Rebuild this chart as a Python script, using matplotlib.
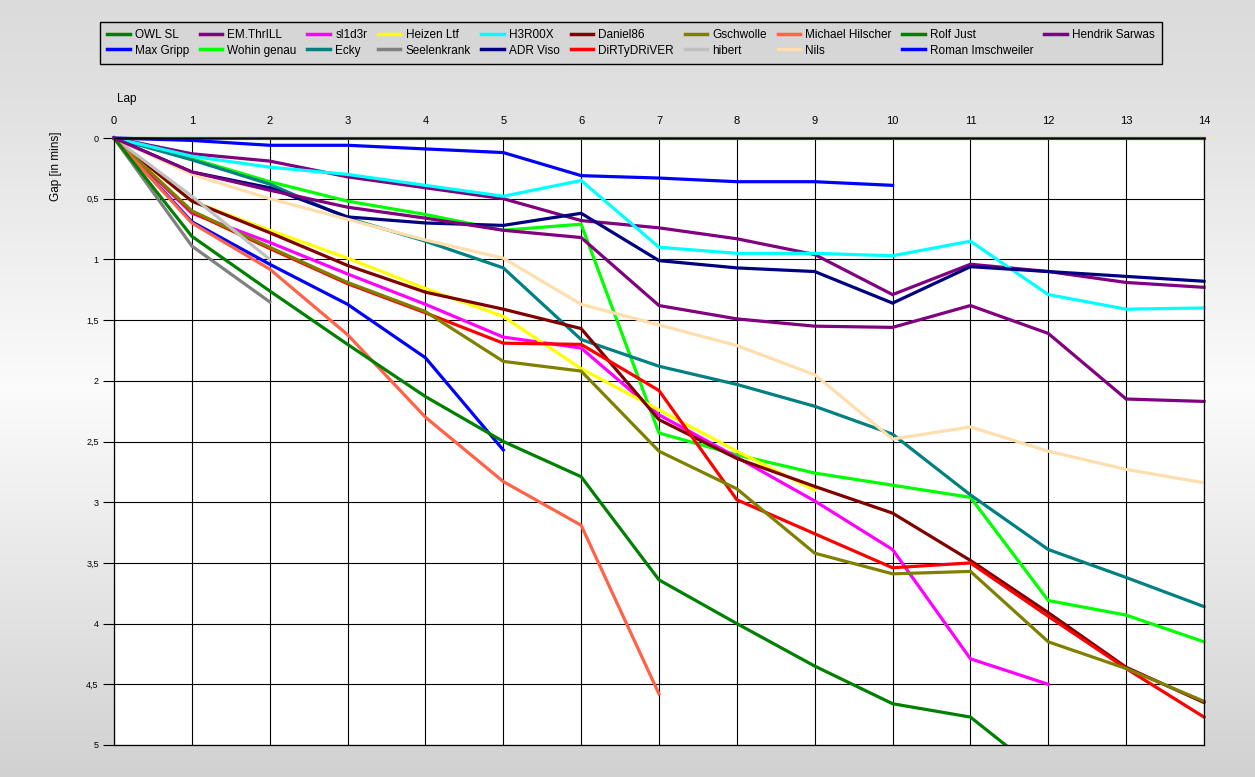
import numpy as np
import matplotlib
matplotlib.use("Agg")
import matplotlib.pyplot as plt

plt.rcParams.update({"font.family": ["Liberation Sans", "DejaVu Sans"], "font.size": 8})

# --- Daten: Rückstand (Minuten) pro Runde ---
drivers = ["OWL SL", "Max Gripp", "EM.ThrILL", "Wohin genau", "sl1d3r", "Ecky",
           "Heizen Ltf", "Seelenkrank", "H3R00X", "ADR Viso", "Daniel86", "DiRTyDRiVER",
           "Gschwolle", "hibert", "Michael Hilscher", "Nils", "Rolf Just",
           "Roman Imschweiler", "Hendrik Sarwas"]
colors = ["#008000", "#0000FF", "#800080", "#00FF00", "#FF00FF", "#008080",
          "#FFFF00", "#808080", "#00FFFF", "#000080", "#800000", "#FF0000",
          "#808000", "#C0C0C0", "#FF6347", "#FFDEAD", "#008000",
          "#0000FF", "#800080"]

owl_sl = [0, 0, 0, 0, 0, 0, 0, 0, 0, 0, 0, 0, 0, 0, 0]
max_gripp = [0, 0.69, 1.04, 1.37, 1.81, 2.57]
em_thrill = [0, 0.13, 0.19, 0.32, 0.41, 0.50, 0.68, 0.74, 0.83, 0.96, 1.29, 1.04, 1.10, 1.19, 1.23]
wohin_genau = [0, 0.17, 0.36, 0.52, 0.63, 0.76, 0.71, 2.43, 2.61, 2.76, 2.86, 2.96, 3.81, 3.93, 4.15]
sl1d3r = [0, 0.62, 0.86, 1.12, 1.37, 1.64, 1.73, 2.28, 2.63, 2.99, 3.39, 4.29, 4.50]
ecky = [0, 0.18, 0.38, 0.66, 0.85, 1.07, 1.66, 1.88, 2.03, 2.21, 2.44, 2.94, 3.39, 3.62, 3.86]
heizen_ltf = [0, 0.52, 0.76, 0.99, 1.24, 1.47, 1.90, 2.24, 2.58, 2.90]
seelenkrank = [0, 0.89, 1.35]
h3r00x = [0, 0.15, 0.24, 0.30, 0.39, 0.48, 0.35, 0.90, 0.95, 0.95, 0.97, 0.85, 1.29, 1.41, 1.40]
adr_viso = [0, 0.28, 0.41, 0.65, 0.70, 0.72, 0.62, 1.01, 1.07, 1.10, 1.36, 1.06, 1.10, 1.14, 1.18]
daniel86 = [0, 0.52, 0.78, 1.05, 1.27, 1.41, 1.57, 2.32, 2.64, 2.87, 3.09, 3.48, 3.91, 4.36, 4.65]
dirtydriver = [0, 0.61, 0.91, 1.20, 1.44, 1.69, 1.70, 2.08, 2.98, 3.26, 3.54, 3.50, 3.94, 4.37, 4.77]
gschwolle = [0, 0.60, 0.90, 1.19, 1.43, 1.84, 1.92, 2.58, 2.89, 3.42, 3.59, 3.57, 4.15, 4.37, 4.64]
hibert = [0, 0.48, 1.00]
michael_hilscher = [0, 0.70, 1.08, 1.62, 2.30, 2.83, 3.19, 4.58]
nils = [0, 0.30, 0.50, 0.67, 0.84, 0.99, 1.37, 1.54, 1.71, 1.95, 2.48, 2.38, 2.58, 2.73, 2.84]
rolf_just = [0, 0.81, 1.26, 1.70, 2.13, 2.50, 2.79, 3.64, 4.00, 4.35, 4.66, 4.77, 5.28]
roman_imschweiler = [0, 0.02, 0.06, 0.06, 0.09, 0.12, 0.31, 0.33, 0.36, 0.36, 0.39]
hendrik_sarwas = [0, 0.28, 0.43, 0.57, 0.66, 0.76, 0.82, 1.38, 1.49, 1.55, 1.56, 1.38, 1.61, 2.15, 2.17]

gaps = [owl_sl, max_gripp, em_thrill, wohin_genau, sl1d3r, ecky, heizen_ltf, seelenkrank,
        h3r00x, adr_viso, daniel86, dirtydriver, gschwolle, hibert, michael_hilscher, nils,
        rolf_just, roman_imschweiler, hendrik_sarwas]

laps = list(range(15))
y_ticks = [0, 0.5, 1, 1.5, 2, 2.5, 3, 3.5, 4, 4.5, 5]

fig = plt.figure(figsize=(12.55, 7.77), dpi=100)

# Hintergrund-Verlauf (oben grau -> Mitte hell -> unten grau)
bg = fig.add_axes([0, 0, 1, 1], zorder=-10)
grad = np.interp(np.linspace(0, 1, 256), [0, 0.12, 0.5, 1.0], [0.86, 0.88, 0.985, 0.82])
bg.imshow(np.dstack([grad, grad, grad]).reshape(256, 1, 3), aspect="auto",
          extent=[0, 1, 0, 1], origin="upper")
bg.axis("off")

ax = fig.add_axes([114 / 1255, 32 / 777, 1090 / 1255, 607 / 777])
ax.set_facecolor("white")
for name, col, g in zip(drivers, colors, gaps):
    clip = max(g) > 5
    ax.plot(laps[:len(g)], g, color=col, lw=2.3, label=name, clip_on=clip, solid_joinstyle="miter")

ax.set_xlim(0, 14)
ax.set_ylim(5, 0)
ax.xaxis.tick_top()
ax.set_xticks(laps)
ax.tick_params(axis="x", length=0, pad=9, labelsize=8)
ax.set_yticks(y_ticks)
ax.set_yticklabels([("%g" % v).replace(".", ",") for v in y_ticks])
ax.tick_params(axis="y", length=8, width=0.8, pad=3, labelsize=6.5)
ax.grid(True, color="black", lw=0.8)
ax.set_axisbelow(True)
for s in ax.spines.values():
    s.set_color("black"); s.set_linewidth(0.9)

fig.text(117 / 1255, 1 - 99 / 777, "Lap", fontsize=8.5, ha="left", va="center")
fig.text(56 / 1255, 1 - 166 / 777, "Gap [in mins]", fontsize=8.5, rotation=90, ha="center", va="center")

leg = fig.legend(loc="upper left", bbox_to_anchor=(100 / 1255, 1 - 22 / 777), ncol=10,
                 fancybox=False, edgecolor="black", facecolor="#d6d6d6", framealpha=1,
                 fontsize=8.5, handlelength=1.9, handletextpad=0.45, columnspacing=0.9,
                 labelspacing=0.3, borderpad=0.6, borderaxespad=0)
leg.get_frame().set_linewidth(1)
for h in leg.legend_handles:
    h.set_linewidth(2.5)

fig.savefig("out.png", dpi=100)
